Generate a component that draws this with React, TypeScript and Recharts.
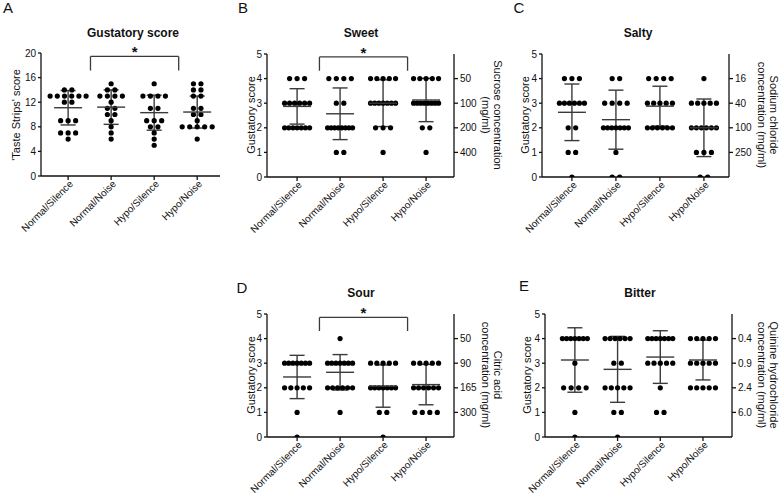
import React from 'react';
import { ScatterChart, Scatter, XAxis, YAxis, ErrorBar, ReferenceLine, ReferenceDot } from 'recharts';

const groups = ['Normal/Silence', 'Normal/Noise', 'Hypo/Silence', 'Hypo/Noise'];

// A - 'Taste Strips' total score
const tasteNS = [14, 14, 13, 13, 13, 13, 13, 13, 12, 12, 9, 9, 9, 7, 7, 7, 6];
const tasteNN = [15, 14, 14, 13, 13, 13, 13, 12, 11, 11, 10, 10, 9, 8, 7, 6];
const tasteHS = [15, 13, 13, 13, 13, 11, 11, 9, 9, 9, 8, 8, 7, 6, 5];
const tasteHN = [15, 15, 14, 14, 13, 13, 11, 11, 10, 10, 9, 8, 8, 8, 8, 8, 6];
const tasteMeans = [11.1, 11.2, 10.3, 10.4];
const tasteSd = [2.8, 2.8, 2.85, 2.6];

// B - sweet
const sweetNS = [4, 4, 4, 3, 3, 3, 3, 3, 3, 2, 2, 2, 2, 2, 2, 2];
const sweetNN = [4, 4, 4, 4, 3, 3, 2, 2, 2, 2, 2, 2, 2, 2, 1, 1];
const sweetHS = [4, 4, 4, 4, 4, 3, 3, 3, 3, 3, 3, 3, 2, 2, 2, 1];
const sweetHN = [4, 4, 4, 4, 4, 3, 3, 3, 3, 3, 3, 3, 3, 2, 2, 1];
const sweetMeans = [2.87, 2.57, 3.0, 3.13];
const sweetSd = [0.72, 1.05, 0.95, 0.88];
const sucroseConc = ['400', '200', '100', '50'];

// C - salty
const saltyNS = [4, 4, 4, 3, 3, 3, 3, 3, 3, 2, 2, 1, 1, 0];
const saltyNN = [4, 4, 3, 3, 3, 3, 2, 2, 2, 2, 2, 2, 2, 1, 0, 0];
const saltyHS = [4, 4, 4, 4, 3, 3, 3, 3, 3, 2, 2, 2, 2, 2, 2];
const saltyHN = [4, 3, 3, 3, 3, 3, 2, 2, 2, 2, 2, 2, 1, 1, 1, 0, 0];
const saltyMeans = [2.63, 2.33, 2.88, 2.0];
const saltySd = [1.15, 1.2, 0.81, 1.17];
const sodiumConc = ['250', '100', '40', '16'];

// D - sour
const sourNS = [3, 3, 3, 3, 3, 3, 3, 2, 2, 2, 2, 2, 1, 0];
const sourNN = [4, 3, 3, 3, 3, 3, 3, 3, 2, 2, 2, 2, 2, 2, 1];
const sourHS = [3, 3, 3, 3, 3, 2, 2, 2, 2, 2, 2, 2, 1, 1, 0];
const sourHN = [3, 3, 3, 3, 3, 2, 2, 2, 2, 2, 2, 1, 1, 1, 1];
const sourMeans = [2.44, 2.63, 2.07, 2.13];
const sourSd = [0.88, 0.72, 0.86, 0.82];
const citricConc = ['300', '165', '90', '50'];

// E - bitter
const bitterNS = [4, 4, 4, 4, 4, 4, 4, 3, 2, 2, 2, 2, 1, 0];
const bitterNN = [4, 4, 4, 4, 4, 4, 3, 3, 2, 2, 2, 2, 2, 1, 1, 0];
const bitterHS = [4, 4, 4, 4, 4, 4, 4, 3, 3, 3, 3, 3, 2, 1, 1];
const bitterHN = [4, 4, 4, 4, 4, 3, 3, 3, 3, 3, 2, 2, 2, 2, 2];
const bitterMeans = [3.13, 2.75, 3.25, 3.13];
const bitterSd = [1.31, 1.34, 1.07, 0.81];
const quinineConc = ['6.0', '2.4', '0.9', '0.4'];

// significance brackets: [from, to, top, leg end]
const tasteBracket = [0.52, 2.57, 19.45, 17.15];
const sweetBracket = [0.52, 2.57, 4.88, 4.32];
const sourBracket = [0.52, 2.57, 4.86, 4.31];

const ink = '#111';
const barInk = '#3a3a3a';
const TOP = 18; // room above the plot for the star
const LEFT = 14; // room for the slanted group names

// spread equal values side by side, like a column scatter
function layoutDots(cols: number[][], spread: number) {
    const out: { x: number; y: number; dx: number }[] = [];
    cols.forEach((vals, gi) => {
        const counts = new Map<number, number>();
        vals.forEach((v) => counts.set(v, (counts.get(v) || 0) + 1));
        counts.forEach((n, v) => {
            const step = n > 1 ? Math.min(7.5, spread / (n - 1)) : 0;
            for (let j = 0; j < n; j++) out.push({ x: gi, y: v, dx: (j - (n - 1) / 2) * step });
        });
    });
    return out;
}

const AngleTick = (p: any) => {
    const x = p.x + 3;
    const y = p.y;
    return (
        <text x={x} y={y} dy="0.35em" transform={`rotate(-45, ${x}, ${y})`} textAnchor="end" fontSize={10} fill={ink}>
            {groups[p.payload.value]}
        </text>
    );
};

interface PanelProps {
    left: number;
    top: number;
    width: number;
    xDomain: [number, number];
    yMax: number;
    yTicks: number[];
    cols: number[][];
    means: number[];
    sds: number[];
    spread: number;
    rightTicks?: string[];
    bracket?: number[];
}

// left/top here are where the plot's axes begin on the page
const Panel: React.FC<PanelProps> = ({ left, top, width, xDomain, yMax, yTicks, cols, means, sds, spread, rightTicks, bracket }) => {
    const dotData = layoutDots(cols, spread);
    const meanData = means.map((m, i) => ({ x: i, y: m, sd: sds[i] }));
    const axisStyle = { stroke: ink, strokeWidth: 1.3 };

    return (
        <div style={{ position: 'absolute', left: left - 30 - LEFT, top: top - TOP }}>
            <ScatterChart
                width={width + LEFT}
                height={180 + TOP}
                margin={{ top: TOP, right: rightTicks ? 4 : 10, bottom: 0, left: LEFT }}
            >
                <XAxis
                    type="number"
                    dataKey="x"
                    domain={xDomain}
                    ticks={[0, 1, 2, 3]}
                    interval={0}
                    allowDataOverflow
                    height={57}
                    tickSize={4}
                    tick={(p: any) => <AngleTick {...p} />}
                    axisLine={axisStyle}
                    tickLine={axisStyle}
                />
                <YAxis
                    yAxisId="left"
                    type="number"
                    dataKey="y"
                    domain={[0, yMax]}
                    ticks={yTicks}
                    interval={0}
                    allowDataOverflow
                    width={30}
                    tickSize={3}
                    tick={{ fontSize: 10, fill: ink }}
                    axisLine={axisStyle}
                    tickLine={axisStyle}
                />
                {rightTicks && (
                    <YAxis
                        yAxisId="right"
                        orientation="right"
                        type="number"
                        domain={[0, 5]}
                        ticks={[1, 2, 3, 4]}
                        interval={0}
                        allowDataOverflow
                        width={32}
                        tickSize={4}
                        tick={{ fontSize: 10, fill: ink }}
                        tickFormatter={(v: number) => rightTicks[v - 1]}
                        axisLine={axisStyle}
                        tickLine={axisStyle}
                    />
                )}
                {bracket && (
                    <ReferenceLine
                        yAxisId="left"
                        segment={[{ x: bracket[0], y: bracket[2] }, { x: bracket[1], y: bracket[2] }]}
                        stroke={barInk}
                        strokeWidth={1.3}
                    />
                )}
                {bracket && (
                    <ReferenceLine
                        yAxisId="left"
                        segment={[{ x: bracket[0], y: bracket[2] }, { x: bracket[0], y: bracket[3] }]}
                        stroke={barInk}
                        strokeWidth={1.3}
                    />
                )}
                {bracket && (
                    <ReferenceLine
                        yAxisId="left"
                        segment={[{ x: bracket[1], y: bracket[2] }, { x: bracket[1], y: bracket[3] }]}
                        stroke={barInk}
                        strokeWidth={1.3}
                    />
                )}
                {bracket && (
                    <ReferenceDot
                        yAxisId="left"
                        x={(bracket[0] + bracket[1]) / 2}
                        y={bracket[2]}
                        r={0}
                        stroke="none"
                        fill="none"
                        ifOverflow="visible"
                        label={{ value: '*', position: 'top', offset: -1, fontSize: 15, fontWeight: 700, fill: ink }}
                    />
                )}
                <Scatter
                    yAxisId="left"
                    data={dotData}
                    isAnimationActive={false}
                    shape={(p: any) => <circle cx={p.cx + (p.payload?.dx ?? 0)} cy={p.cy} r={2.6} fill="#000" />}
                />
                <Scatter
                    yAxisId="left"
                    data={meanData}
                    isAnimationActive={false}
                    shape={(p: any) => (
                        <line x1={p.cx - 14} x2={p.cx + 14} y1={p.cy} y2={p.cy} stroke={barInk} strokeWidth={1.4} />
                    )}
                >
                    <ErrorBar dataKey="sd" direction="y" width={7.5} stroke={barInk} strokeWidth={1.4} />
                </Scatter>
            </ScatterChart>
        </div>
    );
};

const Txt: React.FC<{ x: number; y: number; rot?: number; size?: number; bold?: boolean; children: React.ReactNode }> = ({
    x,
    y,
    rot = 0,
    size = 11,
    bold = false,
    children,
}) => (
    <div
        style={{
            position: 'absolute',
            left: x,
            top: y,
            transform: `translate(-50%, -50%) rotate(${rot}deg)`,
            fontSize: size,
            fontWeight: bold ? 700 : 400,
            whiteSpace: 'nowrap',
            lineHeight: '12px',
            textAlign: 'center',
        }}
    >
        {children}
    </div>
);

export default function App() {
    return (
        <div
            style={{
                position: 'absolute',
                left: 0,
                top: 0,
                width: 781,
                height: 496,
                background: '#fff',
                color: ink,
                fontFamily: '"Liberation Sans", Arial, sans-serif',
                overflow: 'hidden',
            }}
        >
            <Panel
                left={41}
                top={53}
                width={219}
                xDomain={[-0.63, 3.53]}
                yMax={20}
                yTicks={[0, 4, 8, 12, 16, 20]}
                cols={[tasteNS, tasteNN, tasteHS, tasteHN]}
                means={tasteMeans}
                sds={tasteSd}
                spread={36}
                bracket={tasteBracket}
            />
            <Panel
                left={267}
                top={54}
                width={253}
                xDomain={[-0.7, 3.65]}
                yMax={5}
                yTicks={[0, 1, 2, 3, 4, 5]}
                cols={[sweetNS, sweetNN, sweetHS, sweetHN]}
                means={sweetMeans}
                sds={sweetSd}
                spread={25}
                rightTicks={sucroseConc}
                bracket={sweetBracket}
            />
            <Panel
                left={542}
                top={54}
                width={253}
                xDomain={[-0.68, 3.57]}
                yMax={5}
                yTicks={[0, 1, 2, 3, 4, 5]}
                cols={[saltyNS, saltyNN, saltyHS, saltyHN]}
                means={saltyMeans}
                sds={saltySd}
                spread={25}
                rightTicks={sodiumConc}
            />
            <Panel
                left={267}
                top={314}
                width={253}
                xDomain={[-0.7, 3.65]}
                yMax={5}
                yTicks={[0, 1, 2, 3, 4, 5]}
                cols={[sourNS, sourNN, sourHS, sourHN]}
                means={sourMeans}
                sds={sourSd}
                spread={25}
                rightTicks={citricConc}
                bracket={sourBracket}
            />
            <Panel
                left={545}
                top={314}
                width={253}
                xDomain={[-0.7, 3.68]}
                yMax={5}
                yTicks={[0, 1, 2, 3, 4, 5]}
                cols={[bitterNS, bitterNN, bitterHS, bitterHN]}
                means={bitterMeans}
                sds={bitterSd}
                spread={25}
                rightTicks={quinineConc}
            />

            <Txt x={8} y={8} size={15}>A</Txt>
            <Txt x={243} y={8} size={15}>B</Txt>
            <Txt x={519} y={8} size={15}>C</Txt>
            <Txt x={242} y={288} size={15}>D</Txt>
            <Txt x={524} y={286} size={15}>E</Txt>

            <Txt x={133} y={33} size={12} bold>Gustatory score</Txt>
            <Txt x={361} y={33} size={12} bold>Sweet</Txt>
            <Txt x={638} y={33} size={12} bold>Salty</Txt>
            <Txt x={361} y={293} size={12} bold>Sour</Txt>
            <Txt x={640} y={293} size={12} bold>Bitter</Txt>

            <Txt x={16} y={115} rot={-90}>'Taste Strips' score</Txt>
            <Txt x={251} y={115} rot={-90}>Gustatory score</Txt>
            <Txt x={525} y={115} rot={-90}>Gustatory score</Txt>
            <Txt x={251} y={375} rot={-90}>Gustatory score</Txt>
            <Txt x={527} y={375} rot={-90}>Gustatory score</Txt>

            <Txt x={492} y={115} rot={90}>
                Sucrose concentration
                <br />
                (mg/ml)
            </Txt>
            <Txt x={768} y={115} rot={90}>
                Sodium chloride
                <br />
                concentration (mg/ml)
            </Txt>
            <Txt x={492} y={375} rot={90}>
                Citric acid
                <br />
                concentration (mg/ml)
            </Txt>
            <Txt x={768} y={375} rot={90}>
                Quinine hydrochloride
                <br />
                concentration (mg/ml)
            </Txt>
        </div>
    );
}
